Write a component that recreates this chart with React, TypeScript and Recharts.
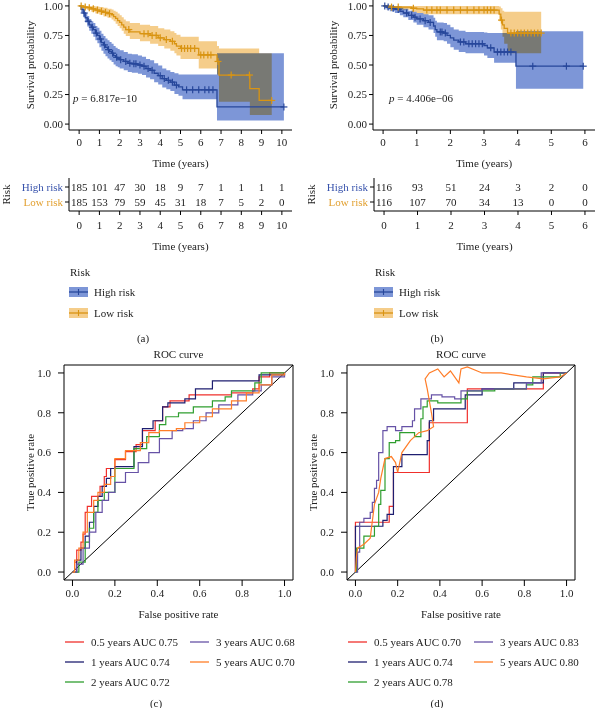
import React from "react"
import { ComposedChart, Line, Area, Scatter, XAxis, YAxis, ReferenceArea, ReferenceLine } from "recharts"

const FONT = '"Liberation Serif", "Times New Roman", serif'
const INK = "#222"

const HIGH_LINE = "#27479b"
const HIGH_BAND = "#7d96d7"
const LOW_LINE = "#d99412"
const LOW_BAND = "#f5cd8a"
const HIGH_TEXT = "#3853ac"
const LOW_TEXT = "#e2a030"

// ---- KM (a): training cohort ----
const kmAHighT = [0, 0.1, 0.2, 0.3, 0.4, 0.5, 0.6, 0.7, 0.8, 0.9, 1.0, 1.1, 1.2, 1.3, 1.4, 1.5, 1.6, 1.7, 1.8, 1.9, 2.0, 2.2, 2.4, 2.6, 2.9, 3.1, 3.3, 3.5, 3.7, 3.9, 4.1, 4.3, 4.5, 4.7, 4.9, 5.1, 6.8, 10.1]
const kmAHighS = [1, 0.97, 0.94, 0.9, 0.87, 0.84, 0.82, 0.8, 0.77, 0.75, 0.72, 0.69, 0.67, 0.65, 0.63, 0.615, 0.6, 0.58, 0.565, 0.555, 0.545, 0.53, 0.515, 0.51, 0.5, 0.49, 0.47, 0.455, 0.43, 0.41, 0.385, 0.37, 0.355, 0.33, 0.315, 0.29, 0.145, 0.145]
const kmAHighLo = [1, 0.945, 0.905, 0.86, 0.825, 0.79, 0.765, 0.74, 0.71, 0.685, 0.65, 0.62, 0.595, 0.575, 0.555, 0.54, 0.525, 0.505, 0.49, 0.48, 0.47, 0.455, 0.44, 0.435, 0.425, 0.415, 0.395, 0.38, 0.355, 0.335, 0.31, 0.295, 0.28, 0.255, 0.24, 0.21, 0.03, 0.03]
const kmAHighHi = [1, 0.995, 0.975, 0.94, 0.915, 0.89, 0.87, 0.855, 0.83, 0.815, 0.79, 0.765, 0.745, 0.725, 0.71, 0.695, 0.68, 0.66, 0.645, 0.635, 0.625, 0.61, 0.595, 0.59, 0.58, 0.57, 0.55, 0.54, 0.515, 0.495, 0.47, 0.455, 0.44, 0.43, 0.42, 0.42, 0.6, 0.6]
const kmAHighCens = [0.25, 0.45, 0.65, 0.85, 1.05, 1.25, 1.45, 1.65, 1.85, 2.05, 2.3, 2.5, 2.7, 2.8, 3.0, 3.2, 3.4, 3.6, 4.0, 4.2, 4.4, 4.6, 4.8, 5.3, 5.6, 5.9, 6.2, 6.4, 6.6, 10.1]

const kmALowT = [0, 0.2, 0.4, 0.6, 0.8, 1.0, 1.2, 1.4, 1.6, 1.7, 1.8, 1.9, 2.0, 2.1, 2.2, 2.3, 2.5, 3.0, 3.5, 3.9, 4.2, 4.5, 4.7, 4.8, 5.0, 5.9, 6.8, 6.9, 8.42, 8.88, 9.5]
const kmALowS = [1, 0.99, 0.985, 0.975, 0.965, 0.955, 0.945, 0.935, 0.925, 0.91, 0.895, 0.875, 0.86, 0.84, 0.82, 0.8, 0.78, 0.765, 0.75, 0.73, 0.715, 0.7, 0.68, 0.66, 0.64, 0.585, 0.53, 0.415, 0.3, 0.2, 0.2]
const kmALowLo = [1, 0.975, 0.965, 0.95, 0.935, 0.925, 0.91, 0.9, 0.885, 0.87, 0.85, 0.83, 0.81, 0.79, 0.765, 0.745, 0.72, 0.7, 0.68, 0.66, 0.64, 0.62, 0.6, 0.58, 0.55, 0.47, 0.42, 0.19, 0.076, 0.076, 0.076]
const kmALowHi = [1, 1, 1, 1, 0.995, 0.99, 0.985, 0.975, 0.97, 0.96, 0.95, 0.935, 0.92, 0.905, 0.885, 0.87, 0.855, 0.84, 0.83, 0.81, 0.8, 0.785, 0.77, 0.755, 0.74, 0.7, 0.66, 0.64, 0.64, 0.6, 0.6]
const kmALowCens = [0.1, 0.3, 0.5, 0.7, 0.9, 1.1, 1.3, 1.5, 2.45, 3.2, 3.4, 3.6, 3.8, 4.0, 4.3, 4.6, 5.05, 5.2, 5.35, 5.5, 5.7, 6.0, 6.15, 6.35, 6.5, 6.85, 7.5, 8.4, 9.5]

// ---- KM (b): validation cohort ----
const kmBHighT = [0, 0.1, 0.2, 0.35, 0.5, 0.6, 0.75, 0.9, 1.0, 1.2, 1.35, 1.5, 1.55, 1.6, 1.8, 1.9, 2.0, 2.1, 2.25, 2.45, 3.0, 3.1, 3.3, 3.95, 5.95]
const kmBHighS = [1, 0.99, 0.98, 0.97, 0.955, 0.94, 0.92, 0.905, 0.89, 0.875, 0.86, 0.83, 0.8, 0.78, 0.77, 0.75, 0.73, 0.71, 0.695, 0.68, 0.665, 0.645, 0.61, 0.49, 0.49]
const kmBHighLo = [1, 0.97, 0.955, 0.94, 0.92, 0.905, 0.88, 0.86, 0.84, 0.82, 0.8, 0.77, 0.74, 0.71, 0.7, 0.68, 0.65, 0.63, 0.61, 0.6, 0.58, 0.56, 0.52, 0.3, 0.3]
const kmBHighHi = [1, 1, 1, 0.995, 0.985, 0.975, 0.96, 0.95, 0.94, 0.93, 0.92, 0.9, 0.875, 0.86, 0.855, 0.84, 0.82, 0.8, 0.79, 0.78, 0.775, 0.77, 0.77, 0.785, 0.785]
const kmBHighCens = [0.05, 0.15, 0.3, 0.45, 0.7, 0.85, 0.95, 1.1, 1.25, 1.4, 1.7, 1.75, 1.85, 2.3, 2.4, 2.55, 2.65, 2.75, 2.85, 2.95, 3.2, 3.4, 3.5, 3.6, 3.7, 3.8, 4.45, 5.45, 5.95]

const kmBLowT = [0, 0.25, 0.85, 1.0, 1.2, 3.45, 3.5, 3.55, 3.6, 3.7, 4.7]
const kmBLowS = [1, 0.99, 0.98, 0.975, 0.965, 0.93, 0.88, 0.84, 0.81, 0.77, 0.77]
const kmBLowLo = [1, 0.97, 0.95, 0.94, 0.93, 0.87, 0.8, 0.74, 0.68, 0.6, 0.6]
const kmBLowHi = [1, 1, 1, 1, 1, 0.995, 0.98, 0.96, 0.95, 0.95, 0.95]
const kmBLowCens = [0.25, 0.45, 0.9, 1.3, 1.45, 1.6, 1.7, 1.9, 2.1, 2.3, 2.5, 2.7, 2.85, 3.0, 3.1, 3.2, 3.3, 3.52, 3.8, 3.9, 4.0, 4.1, 4.2, 4.3, 4.4, 4.5, 4.6, 4.7]

// ---- numbers at risk ----
const riskTimesA = [0, 1, 2, 3, 4, 5, 6, 7, 8, 9, 10]
const riskHighA = [185, 101, 47, 30, 18, 9, 7, 1, 1, 1, 1]
const riskLowA = [185, 153, 79, 59, 45, 31, 18, 7, 5, 2, 0]
const riskTimesB = [0, 1, 2, 3, 4, 5, 6]
const riskHighB = [116, 93, 51, 24, 3, 2, 0]
const riskLowB = [116, 107, 70, 34, 13, 0, 0]

// ---- ROC curves ----
const rocYears = [0.5, 1, 2, 3, 5]
const rocColors = ["#f0302c", "#1e1e70", "#2f9e2f", "#6652a6", "#ff7d28"]
const aucC = [0.75, 0.74, 0.72, 0.68, 0.7]
const aucD = [0.7, 0.74, 0.78, 0.83, 0.8]

const rocC05X = [0, 0.01, 0.02, 0.04, 0.05, 0.06, 0.07, 0.09, 0.13, 0.15, 0.16, 0.2, 0.25, 0.3, 0.33, 0.39, 0.425, 0.46, 0.55, 0.68, 0.75, 0.85, 0.88, 0.93, 1.0]
const rocC05Y = [0, 0.05, 0.11, 0.15, 0.19, 0.3, 0.33, 0.38, 0.43, 0.48, 0.52, 0.565, 0.605, 0.64, 0.71, 0.76, 0.83, 0.86, 0.89, 0.89, 0.9, 0.92, 0.98, 1.0, 1.0]
const rocC1X = [0, 0.02, 0.04, 0.06, 0.08, 0.1, 0.12, 0.14, 0.16, 0.18, 0.2, 0.29, 0.33, 0.38, 0.425, 0.45, 0.53, 0.58, 0.66, 0.87, 0.88, 1.0]
const rocC1Y = [0, 0.06, 0.12, 0.18, 0.25, 0.33, 0.38, 0.43, 0.47, 0.52, 0.53, 0.63, 0.72, 0.76, 0.83, 0.85, 0.87, 0.92, 0.96, 0.96, 0.99, 1.0]
const rocC2X = [0, 0.03, 0.06, 0.08, 0.1, 0.12, 0.15, 0.2, 0.29, 0.35, 0.41, 0.44, 0.5, 0.57, 0.66, 0.72, 0.75, 0.86, 0.89, 1.0]
const rocC2Y = [0, 0.05, 0.15, 0.22, 0.3, 0.36, 0.4, 0.52, 0.62, 0.68, 0.74, 0.78, 0.8, 0.83, 0.86, 0.88, 0.91, 0.95, 1.0, 1.0]
const rocC3X = [0, 0.02, 0.05, 0.08, 0.11, 0.14, 0.17, 0.2, 0.25, 0.31, 0.36, 0.41, 0.47, 0.52, 0.57, 0.63, 0.69, 0.78, 0.85, 0.89, 0.94, 1.0]
const rocC3Y = [0, 0.04, 0.12, 0.2, 0.3, 0.36, 0.4, 0.45, 0.5, 0.55, 0.6, 0.67, 0.71, 0.72, 0.76, 0.8, 0.84, 0.89, 0.91, 0.94, 0.98, 1.0]
const rocC5X = [0, 0.01, 0.03, 0.05, 0.07, 0.1, 0.12, 0.15, 0.18, 0.2, 0.25, 0.32, 0.36, 0.41, 0.49, 0.53, 0.6, 0.66, 0.75, 0.82, 0.88, 0.94, 1.0]
const rocC5Y = [0, 0.06, 0.12, 0.2, 0.3, 0.36, 0.4, 0.44, 0.48, 0.57, 0.61, 0.65, 0.7, 0.71, 0.72, 0.75, 0.78, 0.82, 0.86, 0.9, 0.94, 0.99, 1.0]

const rocD05X = [0, 0, 0.16, 0.18, 0.35, 0.53, 0.89, 1.0]
const rocD05Y = [0, 0.25, 0.33, 0.5, 0.75, 0.92, 1.0, 1.0]
const rocD1X = [0, 0, 0.13, 0.15, 0.18, 0.22, 0.34, 0.35, 0.37, 0.52, 0.6, 0.75, 0.89, 1.0]
const rocD1Y = [0, 0.23, 0.26, 0.29, 0.53, 0.59, 0.66, 0.76, 0.82, 0.89, 0.92, 0.95, 1.0, 1.0]
const rocD2X = [0, 0.005, 0.04, 0.06, 0.09, 0.11, 0.12, 0.14, 0.16, 0.19, 0.21, 0.25, 0.28, 0.31, 0.32, 0.34, 0.39, 0.5, 0.53, 0.66, 0.81, 0.84, 0.97, 1.0]
const rocD2Y = [0, 0.12, 0.18, 0.18, 0.23, 0.34, 0.41, 0.57, 0.65, 0.66, 0.7, 0.7, 0.68, 0.77, 0.83, 0.86, 0.85, 0.87, 0.91, 0.92, 0.94, 0.98, 1.0, 1.0]
const rocD3X = [0, 0.01, 0.02, 0.04, 0.07, 0.08, 0.09, 0.1, 0.11, 0.13, 0.15, 0.19, 0.22, 0.27, 0.28, 0.31, 0.36, 0.41, 0.47, 0.5, 0.6, 0.81, 0.88, 1.0]
const rocD3Y = [0, 0.1, 0.25, 0.27, 0.3, 0.35, 0.42, 0.46, 0.6, 0.71, 0.73, 0.71, 0.73, 0.76, 0.82, 0.87, 0.89, 0.88, 0.87, 0.91, 0.92, 0.95, 1.0, 1.0]
const rocD5X = [0, 0.005, 0.01, 0.04, 0.07, 0.09, 0.11, 0.12, 0.14, 0.17, 0.19, 0.2, 0.22, 0.26, 0.3, 0.34, 0.37, 0.36, 0.34, 0.33, 0.35, 0.39, 0.42, 0.45, 0.49, 0.5, 0.53, 0.6, 0.69, 0.81, 0.89, 0.97, 1.0]
const rocD5Y = [0, 0.08, 0.12, 0.14, 0.17, 0.34, 0.4, 0.47, 0.57, 0.58, 0.55, 0.5, 0.6, 0.66, 0.7, 0.71, 0.73, 0.8, 0.92, 0.97, 1.0, 1.02, 0.98, 1.01, 0.95, 1.02, 1.03, 1.0, 1.0, 0.98, 0.97, 0.98, 1.0]

const ROC_TICKS = [0, 0.2, 0.4, 0.6, 0.8, 1.0]

type Curve = { t: number[]; s: number[]; lo: number[]; hi: number[]; cens: number[] }

const survAt = (t: number[], s: number[], x: number) => {
  let v = s[0]
  t.forEach((ti, i) => {
    if (ti <= x) v = s[i]
  })
  return v
}

const plus = (color: string) => (props: any) => {
  const { cx, cy } = props
  if (cx == null || cy == null) return <g />
  return (
    <g stroke={color} strokeWidth={1.2}>
      <line x1={cx - 3.5} x2={cx + 3.5} y1={cy} y2={cy} />
      <line x1={cx} x2={cx} y1={cy - 3.5} y2={cy + 3.5} />
    </g>
  )
}

const xTitle = (text: string, cx: number, baseline: number) => () => (
  <text x={cx} y={baseline} textAnchor="middle" fontSize={11} fill={INK} fontFamily={FONT}>
    {text}
  </text>
)

const yTitle = (text: string, x: number, cy: number) => () => (
  <text
    transform={`translate(${x},${cy}) rotate(-90)`}
    textAnchor="middle"
    dominantBaseline="central"
    fontSize={11}
    fill={INK}
    fontFamily={FONT}
  >
    {text}
  </text>
)

const tickStyle = { fontSize: 11, fill: INK, fontFamily: FONT }

function KMChart(props: {
  left: number
  width: number
  mLeft: number
  mRight: number
  xMax: number
  ticks: number[]
  high: Curve
  low: Curve
  titleX: number
  pText: string
  pX: number
}) {
  const { high, low } = props
  const plotCenter = props.mLeft + 45 + (props.width - props.mLeft - 45 - props.mRight) / 2
  const band = (c: Curve) => c.t.map((x, i) => ({ x, r: [c.lo[i], c.hi[i]] }))
  const line = (c: Curve) => c.t.map((x, i) => ({ x, y: c.s[i] }))
  const marks = (c: Curve) => c.cens.map((x) => ({ x, y: survAt(c.t, c.s, x) }))
  return (
    <div style={{ position: "absolute", left: props.left, top: 0 }}>
      <ComposedChart width={props.width} height={172} margin={{ top: 0, right: props.mRight, bottom: 0, left: props.mLeft }}>
        <XAxis
          type="number"
          dataKey="x"
          domain={[-props.xMax * 0.05, props.xMax * 1.05]}
          ticks={props.ticks}
          interval={0}
          allowDataOverflow
          height={42}
          stroke="#000"
          tickSize={4}
          tickMargin={4}
          tick={tickStyle}
          label={xTitle("Time (years)", plotCenter, 167)}
        />
        <YAxis
          type="number"
          domain={[-0.05, 1.05]}
          ticks={[0, 0.25, 0.5, 0.75, 1]}
          interval={0}
          tickFormatter={(v: number) => v.toFixed(2)}
          allowDataOverflow
          width={45}
          stroke="#000"
          tickSize={4}
          tickMargin={2}
          tick={tickStyle}
          label={yTitle("Survival probability", props.titleX, 65)}
        />
        <Area data={band(high)} dataKey="r" type="stepAfter" stroke="none" fill={HIGH_BAND} fillOpacity={1} dot={false} activeDot={false} isAnimationActive={false} />
        <Area className="km-low-band" data={band(low)} dataKey="r" type="stepAfter" stroke="none" fill={LOW_BAND} fillOpacity={1} dot={false} activeDot={false} isAnimationActive={false} />
        <Line data={line(high)} dataKey="y" type="stepAfter" stroke={HIGH_LINE} strokeWidth={1.3} dot={false} activeDot={false} isAnimationActive={false} />
        <Line data={line(low)} dataKey="y" type="stepAfter" stroke={LOW_LINE} strokeWidth={1.3} dot={false} activeDot={false} isAnimationActive={false} />
        <Scatter data={marks(high)} dataKey="y" shape={plus(HIGH_LINE)} isAnimationActive={false} />
        <Scatter data={marks(low)} dataKey="y" shape={plus(LOW_LINE)} isAnimationActive={false} />
      </ComposedChart>
      <div style={{ position: "absolute", left: props.pX, top: 92, fontSize: 11, whiteSpace: "nowrap", color: INK }}>
        <i>p</i> = {props.pText}
      </div>
    </div>
  )
}

const riskTick = (props: any) => {
  const { x, y, payload } = props
  const isHigh = payload.value === 2
  return (
    <text x={x} y={y} dy="0.35em" textAnchor="end" fontSize={11} fontFamily={FONT} fill={isHigh ? HIGH_TEXT : LOW_TEXT}>
      {isHigh ? "High risk" : "Low risk"}
    </text>
  )
}

const countShape = (props: any) => {
  const { cx, cy, payload } = props
  if (cx == null || cy == null) return <g />
  return (
    <text x={cx} y={cy} dy="0.35em" textAnchor="middle" fontSize={11} fontFamily={FONT} fill={INK}>
      {payload.n}
    </text>
  )
}

function RiskChart(props: {
  left: number
  width: number
  yWidth: number
  mRight: number
  xMax: number
  times: number[]
  high: number[]
  low: number[]
  titleX: number
}) {
  const rows = [
    ...props.times.map((x, i) => ({ x, y: 2, n: props.high[i] })),
    ...props.times.map((x, i) => ({ x, y: 1, n: props.low[i] })),
  ]
  const plotCenter = props.yWidth + (props.width - props.yWidth - props.mRight) / 2
  return (
    <div style={{ position: "absolute", left: props.left, top: 172 }}>
      <ComposedChart width={props.width} height={80} margin={{ top: 6, right: props.mRight, bottom: 0, left: 0 }}>
        <XAxis
          type="number"
          dataKey="x"
          domain={[-props.xMax * 0.05, props.xMax * 1.05]}
          ticks={props.times}
          interval={0}
          allowDataOverflow
          height={41}
          stroke="#000"
          tickSize={4}
          tickMargin={6}
          tick={tickStyle}
          label={xTitle("Time (years)", plotCenter, 78)}
        />
        <YAxis
          type="number"
          domain={[0.4, 2.6]}
          ticks={[1, 2]}
          interval={0}
          width={props.yWidth}
          stroke="#000"
          tickSize={4}
          tickMargin={2}
          tick={riskTick}
          label={yTitle("Risk", props.titleX, 22.5)}
        />
        <Scatter data={rows} dataKey="y" shape={countShape} isAnimationActive={false} />
      </ComposedChart>
    </div>
  )
}

function KMLegend({ left }: { left: number }) {
  const items = [
    { label: "High risk", band: HIGH_BAND, line: HIGH_LINE, y: 292 },
    { label: "Low risk", band: LOW_BAND, line: LOW_LINE, y: 313 },
  ]
  return (
    <>
      <div style={{ position: "absolute", left: left + 1, top: 265, fontSize: 11, lineHeight: "14px" }}>Risk</div>
      {items.map((it) => (
        <React.Fragment key={it.label}>
          <svg style={{ position: "absolute", left, top: it.y - 6 }} width={19} height={12}>
            <rect x={0} y={1} width={19} height={10} fill={it.band} />
            <line x1={0} x2={19} y1={6} y2={6} stroke={it.line} strokeWidth={1.3} />
            <line x1={9.5} x2={9.5} y1={3} y2={9} stroke={it.line} strokeWidth={1.1} />
          </svg>
          <div style={{ position: "absolute", left: left + 25, top: it.y - 7, fontSize: 11, lineHeight: "14px" }}>{it.label}</div>
        </React.Fragment>
      ))}
    </>
  )
}

type RocSeries = { x: number[]; y: number[]; step: boolean }

function RocChart(props: { left: number; mRight: number; series: RocSeries[] }) {
  const plotLeft = 64
  const plotRight = 300 - props.mRight
  const cx = (plotLeft + plotRight) / 2
  return (
    <div style={{ position: "absolute", left: props.left, top: 340 }}>
      <ComposedChart width={300} height={290} margin={{ top: 25, right: props.mRight, bottom: 0, left: 20 }}>
        <XAxis
          type="number"
          dataKey="x"
          domain={[-0.04, 1.04]}
          ticks={ROC_TICKS}
          interval={0}
          tickFormatter={(v: number) => v.toFixed(1)}
          allowDataOverflow
          axisLine={false}
          height={50}
          stroke="#000"
          tickSize={6}
          tickMargin={3}
          tick={tickStyle}
          label={xTitle("False positive rate", cx, 278)}
        />
        <YAxis
          type="number"
          domain={[-0.04, 1.04]}
          ticks={ROC_TICKS}
          interval={0}
          tickFormatter={(v: number) => v.toFixed(1)}
          allowDataOverflow
          axisLine={false}
          width={44}
          stroke="#000"
          tickSize={6}
          tickMargin={7}
          tick={tickStyle}
          label={yTitle("True positive rate", 30, 132.5)}
        />
        <ReferenceArea x1={-0.04} x2={1.04} y1={-0.04} y2={1.04} fill="none" stroke="#000" strokeWidth={1} fillOpacity={0} />
        <ReferenceLine segment={[{ x: -0.04, y: -0.04 }, { x: 1.04, y: 1.04 }]} stroke="#000" strokeWidth={1} />
        {props.series.map((s, i) => (
          <Line
            key={i}
            data={s.x.map((x, j) => ({ x, y: s.y[j] }))}
            dataKey="y"
            type={s.step ? "stepAfter" : "linear"}
            stroke={rocColors[i]}
            strokeWidth={1.2}
            dot={false}
            activeDot={false}
            isAnimationActive={false}
          />
        ))}
      </ComposedChart>
      <div style={{ position: "absolute", left: plotLeft, width: plotRight - plotLeft, top: 7, textAlign: "center", fontSize: 11, lineHeight: "14px" }}>
        ROC curve
      </div>
    </div>
  )
}

function RocLegend({ left, col2, auc }: { left: number; col2: number; auc: number[] }) {
  const rowsY = [642, 662, 682]
  return (
    <>
      {rocYears.map((yr, i) => {
        const x = i < 3 ? left : col2
        const y = rowsY[i < 3 ? i : i - 3]
        return (
          <React.Fragment key={yr}>
            <svg style={{ position: "absolute", left: x, top: y - 2 }} width={19} height={4}>
              <line x1={0} x2={19} y1={2} y2={2} stroke={rocColors[i]} strokeWidth={1.3} />
            </svg>
            <div style={{ position: "absolute", left: x + 26, top: y - 7, fontSize: 11, lineHeight: "14px", whiteSpace: "nowrap" }}>
              {`${yr} years AUC ${auc[i].toFixed(2)}`}
            </div>
          </React.Fragment>
        )
      })}
    </>
  )
}

const Caption = ({ text, cx, cy }: { text: string; cx: number; cy: number }) => (
  <div style={{ position: "absolute", left: cx - 20, width: 40, top: cy - 7, textAlign: "center", fontSize: 11, lineHeight: "14px" }}>{text}</div>
)

export default function App() {
  const highA: Curve = { t: kmAHighT, s: kmAHighS, lo: kmAHighLo, hi: kmAHighHi, cens: kmAHighCens }
  const lowA: Curve = { t: kmALowT, s: kmALowS, lo: kmALowLo, hi: kmALowHi, cens: kmALowCens }
  const highB: Curve = { t: kmBHighT, s: kmBHighS, lo: kmBHighLo, hi: kmBHighHi, cens: kmBHighCens }
  const lowB: Curve = { t: kmBLowT, s: kmBLowS, lo: kmBLowLo, hi: kmBLowHi, cens: kmBLowCens }

  const rocC: RocSeries[] = [
    { x: rocC05X, y: rocC05Y, step: true },
    { x: rocC1X, y: rocC1Y, step: true },
    { x: rocC2X, y: rocC2Y, step: true },
    { x: rocC3X, y: rocC3Y, step: true },
    { x: rocC5X, y: rocC5Y, step: true },
  ]
  const rocD: RocSeries[] = [
    { x: rocD05X, y: rocD05Y, step: true },
    { x: rocD1X, y: rocD1Y, step: true },
    { x: rocD2X, y: rocD2Y, step: true },
    { x: rocD3X, y: rocD3Y, step: true },
    { x: rocD5X, y: rocD5Y, step: false },
  ]

  return (
    <div
      style={{
        position: "absolute",
        left: 0,
        top: 0,
        width: 596,
        height: 708,
        background: "#fff",
        fontFamily: FONT,
        color: INK,
        overflow: "hidden",
      }}
    >
      <style>{`.km-low-band { mix-blend-mode: multiply; }`}</style>

      <KMChart left={0} width={300} mLeft={24} mRight={8} xMax={10} ticks={riskTimesA} high={highA} low={lowA} titleX={30} pText="6.817e−10" pX={73} />
      <KMChart left={300} width={296} mLeft={28} mRight={1} xMax={6} ticks={riskTimesB} high={highB} low={lowB} titleX={33} pText="4.406e−06" pX={89} />

      <RiskChart left={0} width={300} yWidth={69} mRight={8} xMax={10} times={riskTimesA} high={riskHighA} low={riskLowA} titleX={6} />
      <RiskChart left={300} width={296} yWidth={74} mRight={1} xMax={6} times={riskTimesB} high={riskHighB} low={riskLowB} titleX={11} />

      <KMLegend left={69} />
      <KMLegend left={374} />
      <Caption text="(a)" cx={143} cy={338} />
      <Caption text="(b)" cx={437} cy={338} />

      <RocChart left={0} mRight={7} series={rocC} />
      <RocChart left={283} mRight={8} series={rocD} />

      <RocLegend left={65} col2={190} auc={aucC} />
      <RocLegend left={348} col2={474} auc={aucD} />
      <Caption text="(c)" cx={156} cy={703} />
      <Caption text="(d)" cx={437} cy={703} />
    </div>
  )
}
